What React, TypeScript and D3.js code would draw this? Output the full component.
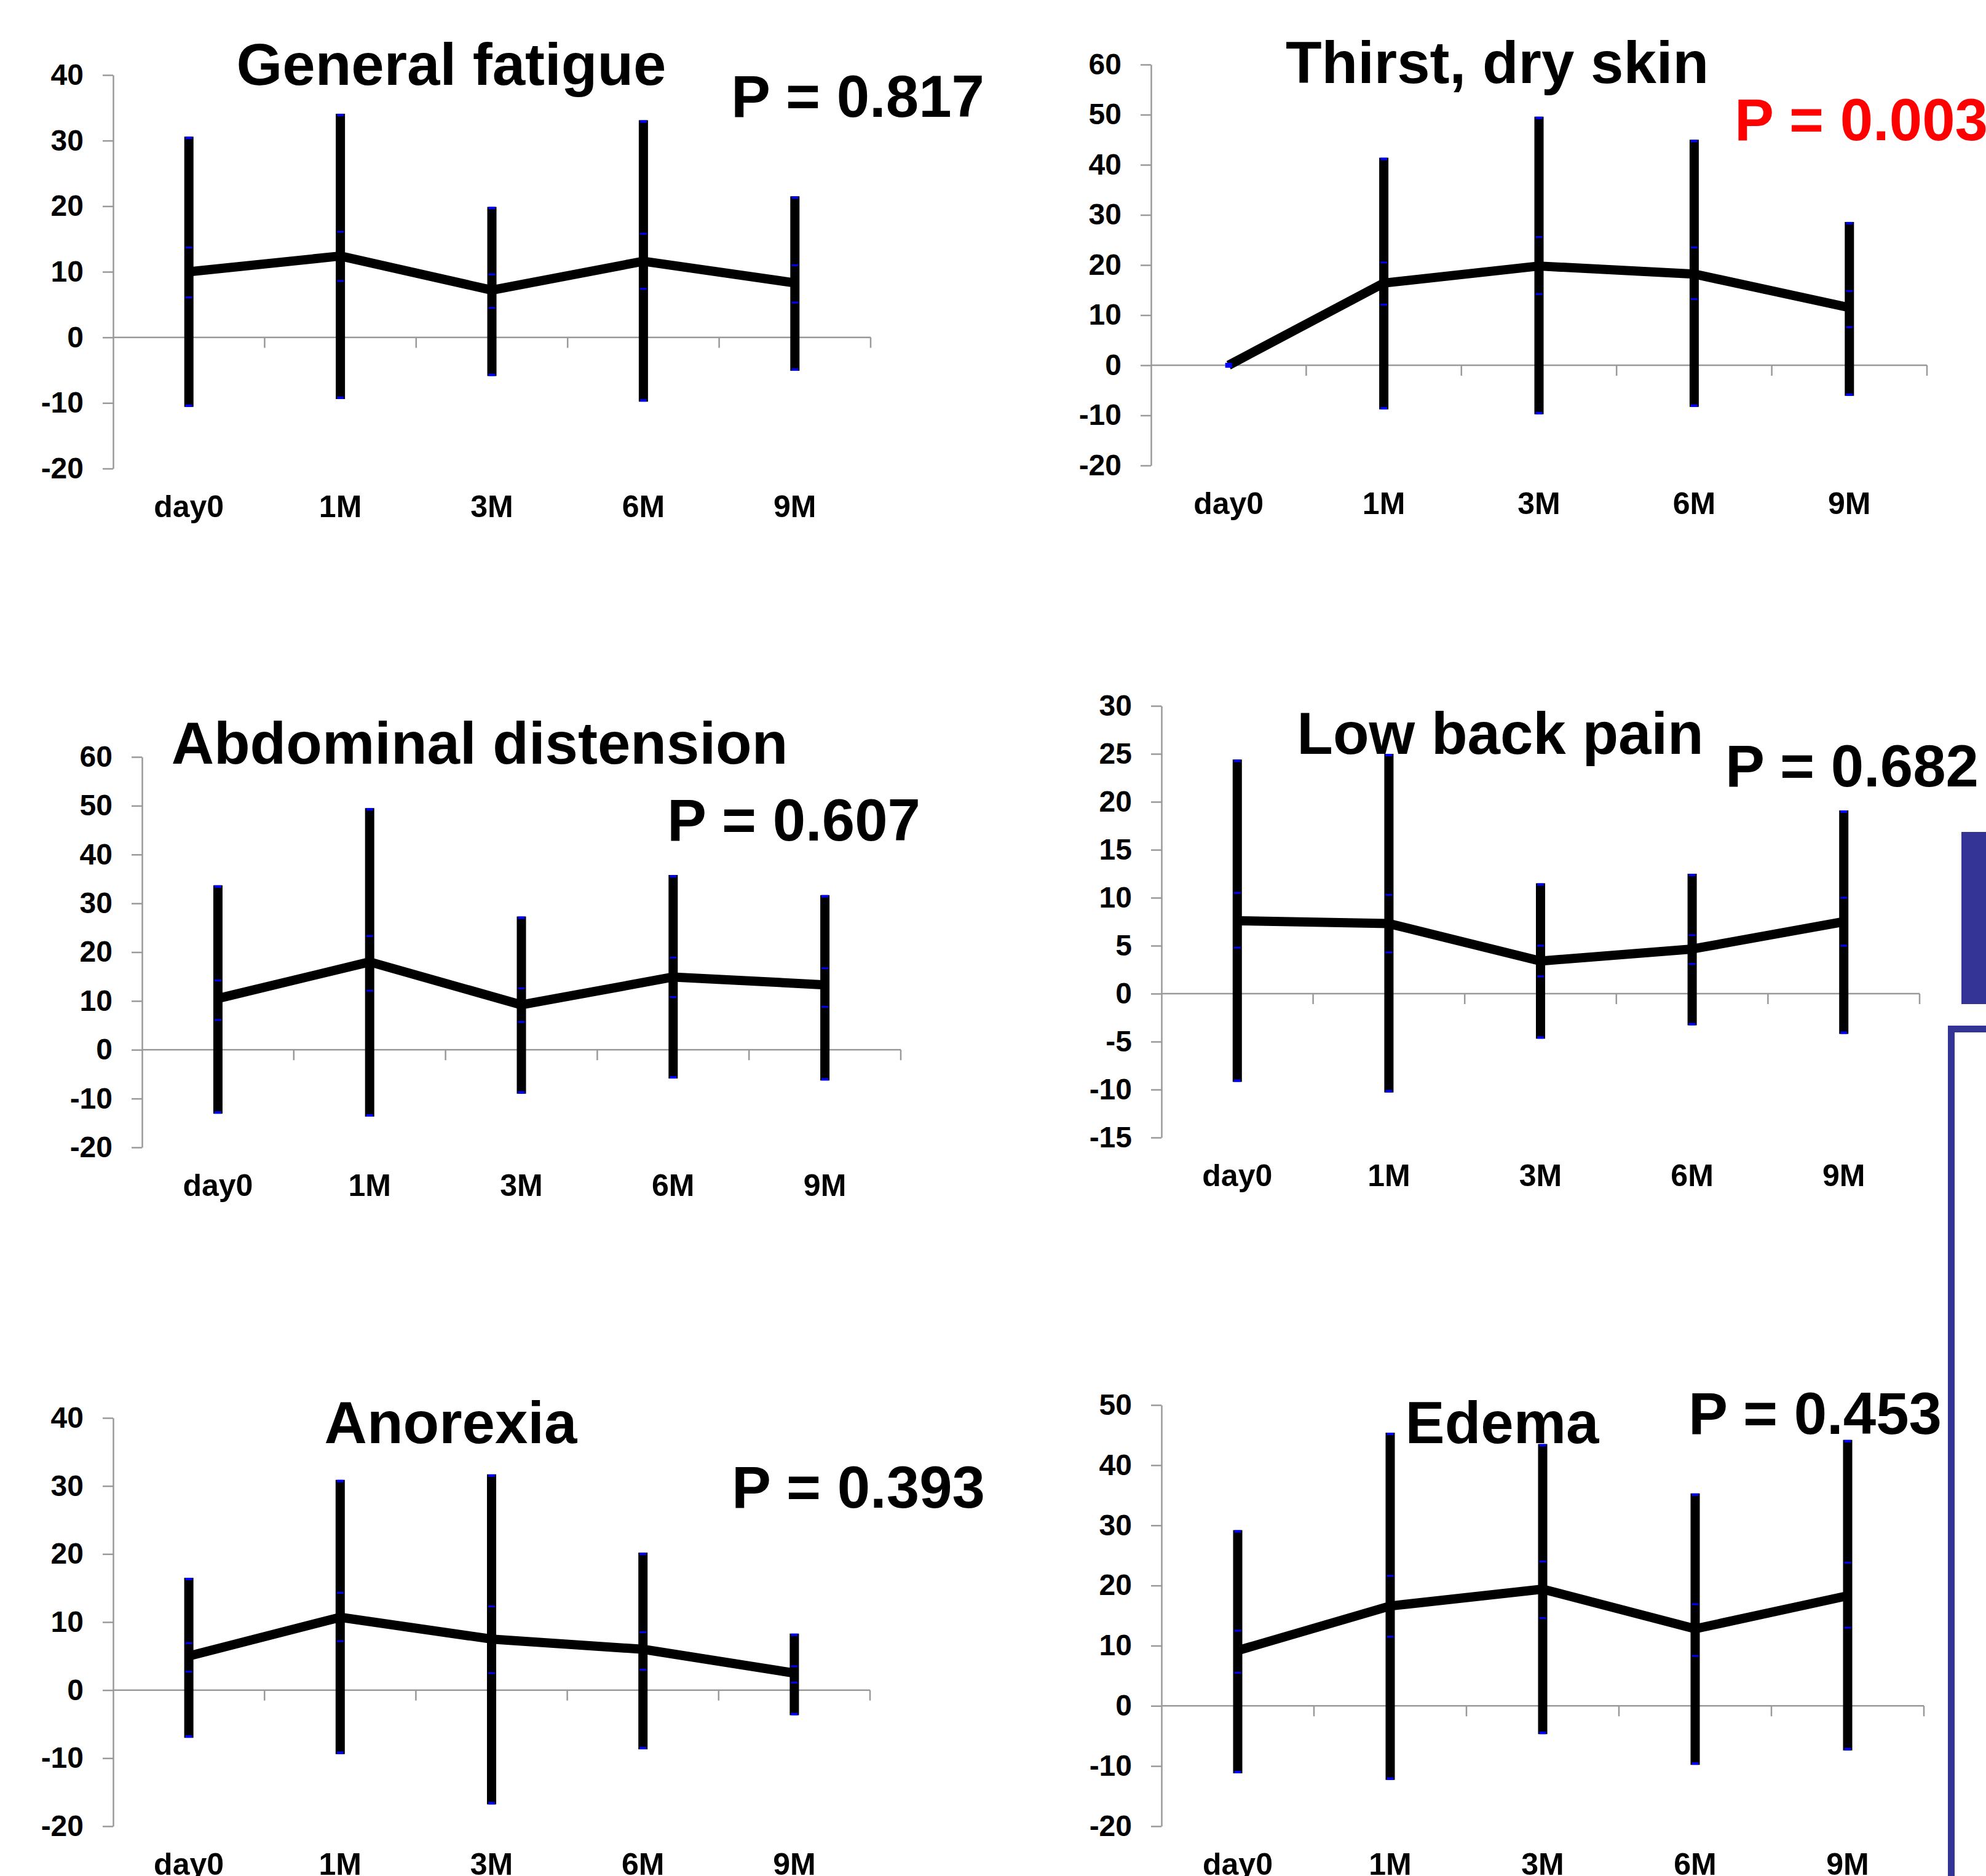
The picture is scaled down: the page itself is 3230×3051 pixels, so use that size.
import React, { useEffect, useRef } from "react";
import * as d3 from "d3";

// six symptom panels, mean with range bars over follow-up visits

const W = 3230;
const H = 3051;
const FONT = "'Liberation Sans', Arial, sans-serif";

const categories = ["day0", "1M", "3M", "6M", "9M"];

const fatigueTicks = [-20, -10, 0, 10, 20, 30, 40];
const fatigueMean = [10, 12.4, 7.2, 11.6, 8.3];
const fatigueHigh = [30.6, 34.1, 19.9, 33.1, 21.5];
const fatigueLow = [-10.6, -9.4, -5.9, -9.8, -5.1];
const fatigueInnerHigh = [13.7, 16.1, 9.6, 15.8, 11.0];
const fatigueInnerLow = [6.1, 8.6, 4.5, 7.4, 5.3];

const thirstTicks = [-20, -10, 0, 10, 20, 30, 40, 50, 60];
const thirstMean = [0, 16.4, 19.8, 18.2, 11.5];
const thirstHigh = [0, 41.4, 49.6, 45.0, 28.6];
const thirstLow = [0, -8.8, -9.8, -8.3, -6.1];
const thirstInnerHigh = [0, 20.5, 25.6, 23.5, 14.8];
const thirstInnerLow = [0, 12.1, 14.2, 13.2, 7.6];

const abdomenTicks = [-20, -10, 0, 10, 20, 30, 40, 50, 60];
const abdomenMean = [10.5, 18.0, 9.2, 14.9, 13.3];
const abdomenHigh = [33.7, 49.5, 27.3, 35.8, 31.7];
const abdomenLow = [-13.1, -13.7, -9.0, -5.9, -6.3];
const abdomenInnerHigh = [14.2, 23.3, 12.6, 18.9, 16.7];
const abdomenInnerLow = [6.1, 12.1, 5.7, 10.8, 8.8];

const backTicks = [-15, -10, -5, 0, 5, 10, 15, 20, 25, 30];
const backMean = [7.6, 7.3, 3.4, 4.65, 7.5];
const backHigh = [24.4, 25.0, 11.5, 12.5, 19.1];
const backLow = [-9.2, -10.3, -4.7, -3.3, -4.2];
const backInnerHigh = [10.5, 10.3, 5.0, 6.1, 10.0];
const backInnerLow = [4.8, 4.3, 1.8, 3.1, 5.0];

const anorexiaTicks = [-20, -10, 0, 10, 20, 30, 40];
const anorexiaMean = [5.0, 10.7, 7.5, 6.0, 2.5];
const anorexiaHigh = [16.5, 30.9, 31.7, 20.2, 8.3];
const anorexiaLow = [-7.0, -9.4, -16.8, -8.7, -3.7];
const anorexiaInnerHigh = [6.9, 14.3, 12.3, 8.5, 3.5];
const anorexiaInnerLow = [2.7, 7.2, 2.5, 3.0, 1.1];

const edemaTicks = [-20, -10, 0, 10, 20, 30, 40, 50];
const edemaMean = [9.2, 16.6, 19.4, 12.8, 18.3];
const edemaHigh = [29.2, 45.4, 43.5, 35.3, 44.2];
const edemaLow = [-11.2, -12.3, -4.7, -9.8, -7.4];
const edemaInnerHigh = [12.5, 21.6, 24.0, 16.9, 23.8];
const edemaInnerLow = [5.5, 11.5, 14.6, 8.3, 13.0];

const panels = [
  { title: "General fatigue", p: "P = 0.817", pColor: "#000", ticks: fatigueTicks, mean: fatigueMean, high: fatigueHigh, low: fatigueLow, innerHigh: fatigueInnerHigh, innerLow: fatigueInnerLow },
  { title: "Thirst, dry skin", p: "P = 0.003", pColor: "#ff0000", ticks: thirstTicks, mean: thirstMean, high: thirstHigh, low: thirstLow, innerHigh: thirstInnerHigh, innerLow: thirstInnerLow },
  { title: "Abdominal distension", p: "P = 0.607", pColor: "#000", ticks: abdomenTicks, mean: abdomenMean, high: abdomenHigh, low: abdomenLow, innerHigh: abdomenInnerHigh, innerLow: abdomenInnerLow },
  { title: "Low back pain", p: "P = 0.682", pColor: "#000", ticks: backTicks, mean: backMean, high: backHigh, low: backLow, innerHigh: backInnerHigh, innerLow: backInnerLow },
  { title: "Anorexia", p: "P = 0.393", pColor: "#000", ticks: anorexiaTicks, mean: anorexiaMean, high: anorexiaHigh, low: anorexiaLow, innerHigh: anorexiaInnerHigh, innerLow: anorexiaInnerLow },
  { title: "Edema", p: "P = 0.453", pColor: "#000", ticks: edemaTicks, mean: edemaMean, high: edemaHigh, low: edemaLow, innerHigh: edemaInnerHigh, innerLow: edemaInnerLow },
];

// plot boxes in page pixels
const layout = [
  { x0: 184, x1: 1416, top: 122, bottom: 762, titleX: 734, titleY: 138, pX: 1189, pY: 190 },
  { x0: 1872, x1: 3134, top: 105, bottom: 757, titleX: 2435, titleY: 135, pX: 2821, pY: 228 },
  { x0: 231, x1: 1465, top: 1231, bottom: 1866, titleX: 780, titleY: 1242, pX: 1085, pY: 1367 },
  { x0: 1889, x1: 3122, top: 1148, bottom: 1850, titleX: 2440, titleY: 1226, pX: 2806, pY: 1279 },
  { x0: 184, x1: 1415, top: 2306, bottom: 2970, titleX: 733, titleY: 2347, pX: 1190, pY: 2452 },
  { x0: 1889, x1: 3129, top: 2285, bottom: 2970, titleX: 2443, titleY: 2347, pX: 2746, pY: 2332 },
];

export default function App() {
  const svgRef = useRef<SVGSVGElement | null>(null);

  useEffect(() => {
    document.body.style.margin = "0";
    const svg = d3.select(svgRef.current);
    svg.selectAll("*").remove();

    svg.append("rect").attr("width", W).attr("height", H).attr("fill", "#fff");

    panels.forEach((pn, i) => {
      const L = layout[i];
      const g = svg.append("g");

      const x = d3.scaleBand().domain(categories).range([L.x0, L.x1]);
      const y = d3
        .scaleLinear()
        .domain(d3.extent(pn.ticks) as [number, number])
        .range([L.bottom, L.top]);
      const cx = (c: string) => (x(c) ?? 0) + x.bandwidth() / 2;

      // y axis
      const yAxis = d3
        .axisLeft(y)
        .tickValues(pn.ticks)
        .tickSize(17)
        .tickSizeOuter(0)
        .tickPadding(31)
        .tickFormat((d) => String(d));
      const ya = g.append("g").attr("transform", `translate(${L.x0},0)`).call(yAxis);
      ya.selectAll("path,line").attr("stroke", "#999").attr("stroke-width", 2.5);
      ya.selectAll("text")
        .attr("font-family", FONT)
        .attr("font-weight", "bold")
        .attr("font-size", 48)
        .attr("fill", "#000");

      // x axis sits on zero, ticks at band edges
      const y0 = y(0);
      g.append("line")
        .attr("x1", L.x0)
        .attr("x2", L.x1)
        .attr("y1", y0)
        .attr("y2", y0)
        .attr("stroke", "#999")
        .attr("stroke-width", 2.5);
      g.selectAll(".xt")
        .data(categories)
        .join("line")
        .attr("x1", (c) => (x(c) ?? 0) + x.bandwidth())
        .attr("x2", (c) => (x(c) ?? 0) + x.bandwidth())
        .attr("y1", y0)
        .attr("y2", y0 + 17)
        .attr("stroke", "#999")
        .attr("stroke-width", 2.5);
      g.selectAll(".xl")
        .data(categories)
        .join("text")
        .attr("x", cx)
        .attr("y", L.bottom + 79)
        .attr("text-anchor", "middle")
        .attr("font-family", FONT)
        .attr("font-weight", "bold")
        .attr("font-size", 50)
        .text((c) => c);

      // range bars
      const rows = categories.map((c, k) => ({
        c,
        mean: pn.mean[k],
        high: pn.high[k],
        low: pn.low[k],
        ih: pn.innerHigh[k],
        il: pn.innerLow[k],
      }));
      g.selectAll(".bar")
        .data(rows.filter((r) => r.high !== r.low))
        .join("line")
        .attr("x1", (r) => cx(r.c))
        .attr("x2", (r) => cx(r.c))
        .attr("y1", (r) => y(r.high))
        .attr("y2", (r) => y(r.low))
        .attr("stroke", "#000")
        .attr("stroke-width", 15);

      const line = d3
        .line<(typeof rows)[number]>()
        .x((r) => cx(r.c))
        .y((r) => y(r.mean));
      g.append("path")
        .datum(rows)
        .attr("d", line)
        .attr("fill", "none")
        .attr("stroke", "#000")
        .attr("stroke-width", 15)
        .attr("stroke-linejoin", "round");

      // little blue marks on the bars
      const marks: { c: string; v: number; h: number; end: number }[] = [];
      rows.forEach((r) => {
        marks.push({ c: r.c, v: r.high, h: 4, end: 1 });
        marks.push({ c: r.c, v: r.low, h: 4, end: -1 });
        if (r.ih !== r.il) {
          marks.push({ c: r.c, v: r.ih, h: 3, end: 0 });
          marks.push({ c: r.c, v: r.il, h: 3, end: 0 });
        }
      });
      g.selectAll(".mk")
        .data(marks)
        .join("rect")
        .attr("x", (m) => cx(m.c) - 5.5)
        .attr("width", 11)
        .attr("y", (m) => (m.end === 1 ? y(m.v) : m.end === -1 ? y(m.v) - m.h : y(m.v) - m.h / 2))
        .attr("height", (m) => m.h)
        .attr("fill", "#0000ff");

      g.append("text")
        .attr("x", L.titleX)
        .attr("y", L.titleY)
        .attr("text-anchor", "middle")
        .attr("font-family", FONT)
        .attr("font-weight", "bold")
        .attr("font-size", 96)
        .text(pn.title);

      g.append("text")
        .attr("x", L.pX)
        .attr("y", L.pY)
        .attr("font-family", FONT)
        .attr("font-weight", "bold")
        .attr("font-size", 96)
        .attr("fill", pn.pColor)
        .text(pn.p);
    });

    // slide decoration bits on the right edge
    svg.append("rect")
      .attr("x", 3190)
      .attr("y", 1353)
      .attr("width", 60)
      .attr("height", 280)
      .attr("fill", "#343496");
    svg.append("rect")
      .attr("x", 3173.5)
      .attr("y", 1673.5)
      .attr("width", 120)
      .attr("height", 1500)
      .attr("fill", "none")
      .attr("stroke", "#343496")
      .attr("stroke-width", 11);
  }, []);

  return (
    <svg
      ref={svgRef}
      width={W}
      height={H}
      style={{ position: "absolute", left: 0, top: 0, display: "block" }}
    />
  );
}
